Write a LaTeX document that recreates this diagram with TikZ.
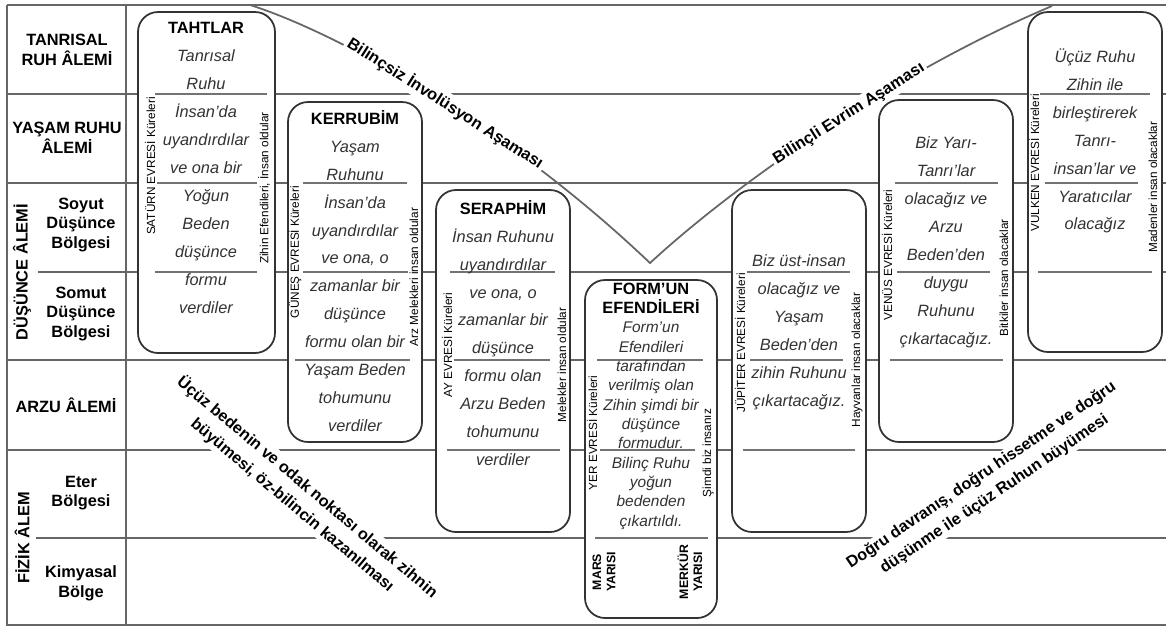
\documentclass[tikz,border=0pt]{standalone}
\usepackage{fontspec}
\setmainfont{Liberation Sans}
\usetikzlibrary{positioning}

\begin{document}
\begin{tikzpicture}[x=0.02cm,y=-0.02cm,
		satir/.style={draw=black!60,line width=0.8pt},
		ara/.style={draw=black!55,line width=0.8pt},
		kure/.style={draw=black!80,fill=white,line width=1pt,rounded corners=0.4cm},
		alem/.style={font=\fontsize{9.3}{11.2}\selectfont\bfseries,align=center,inner sep=0pt},
		metin/.style={font=\fontsize{9.3}{15.9}\selectfont\itshape,align=center,text=black!80,inner sep=0pt},
		sik/.style={font=\fontsize{8.8}{11}\selectfont\itshape,align=center,text=black!80,inner sep=0pt},
		yan/.style={rotate=90,font=\fontsize{6.7}{8}\selectfont,inner sep=0pt},
		yari/.style={rotate=90,font=\fontsize{7}{8}\selectfont\bfseries,align=center,inner sep=0pt},
		asama/.style={sloped,fill=white,font=\fontsize{9.3}{11}\selectfont\bfseries,inner sep=1.5pt},
		egik/.style={fill=white,font=\fontsize{9.2}{13.2}\selectfont\bfseries,align=center,inner sep=1pt},
		yol/.style={draw=black!60,line width=1pt}]
	\useasboundingbox (0,0) rectangle (1166,627);

	% tablo
	\draw[satir,line width=1.2pt] (7,5) -- (1166,5);
	\draw[satir] (7,5) -- (7,625) -- (1166,625);
	\draw[satir] (126,5) -- (126,625);
	\draw[satir] (7,94) -- (1166,94);
	\draw[satir] (7,183) -- (1166,183);
	\draw[satir] (38,272) -- (1166,272);
	\draw[satir] (7,360) -- (1166,360);
	\draw[satir] (7,450) -- (1166,450);
	\draw[satir] (36,538) -- (1166,538);

	% alemler
	\node[alem] (tanrisal) at (67,50) {TANRISAL\\RUH ÂLEMİ};
	\node[alem] (yasamruhu) at (67,138) {YAŞAM RUHU\\ÂLEMİ};
	\node[alem,rotate=90] (dusunce) at (22,272) {DÜŞÜNCE ÂLEMİ};
	\node[alem] (soyut) at (81,225) {Soyut\\Düşünce\\Bölgesi};
	\node[alem] (somut) at (81,314) {Somut\\Düşünce\\Bölgesi};
	\node[alem] (arzu) at (66,405) {ARZU ÂLEMİ};
	\node[alem,rotate=90] (fizik) at (22,538) {FİZİK ÂLEM};
	\node[alem] (eter) at (81,493) {Eter\\Bölgesi};
	\node[alem] (kimyasal) at (81,583) {Kimyasal\\Bölge};

	% asamalar
	\coordinate (invbas) at (250,5);
	\coordinate (dip) at (650,263);
	\coordinate (evrson) at (1052,6);
	\draw[yol] (invbas) .. controls (330,30) and (500,120) .. (dip)
			node[asama,pos=0.55] (involusyon) {Bilinçsiz İnvolüsyon Aşaması}
		.. controls (740,180) and (900,70) .. (evrson)
			node[asama,pos=0.55] (evrim) {Bilinçli Evrim Aşaması};

	\node[egik,rotate=-40] (ucuzbeden) at (300,496) {Üçüz bedenin ve odak noktası olarak zihnin\\büyümesi, öz-bilincin kazanılması};
	\node[egik,rotate=34] (dogru) at (988,485) {Doğru davranış, doğru hissetme ve doğru\\düşünme ile üçüz Ruhun büyümesi};

	% kureler
	\draw[kure] (138,12) rectangle (275,353);
	\draw[kure] (288,102) rectangle (422,442);
	\draw[kure] (436,190) rectangle (570,532);
	\draw[kure] (585,280) rectangle (717,618);
	\draw[kure] (732,190) rectangle (866,532);
	\draw[kure] (879,100) rectangle (1013,442);
	\draw[kure] (1028,12) rectangle (1162,352);

	\draw[ara] (155,94) -- (267,94);
	\draw[ara] (157,183) -- (257,183);
	\draw[ara] (155,272) -- (257,272);
	\draw[ara] (303,183) -- (407,183);
	\draw[ara] (303,272) -- (408,272);
	\draw[ara] (295,360) -- (410,360);
	\draw[ara] (450,272) -- (555,272);
	\draw[ara] (454,360) -- (550,360);
	\draw[ara] (447,450) -- (560,450);
	\draw[ara] (597,360) -- (703,360);
	\draw[ara] (600,450) -- (695,450);
	\draw[ara] (595,538) -- (708,538);
	\draw[ara] (747,272) -- (850,272);
	\draw[ara] (750,360) -- (843,360);
	\draw[ara] (743,450) -- (855,450);
	\draw[ara] (895,183) -- (998,183);
	\draw[ara] (897,272) -- (990,272);
	\draw[ara] (890,360) -- (1003,360);
	\draw[ara] (1040,94) -- (1150,94);
	\draw[ara] (1045,183) -- (1138,183);
	\draw[ara] (1038,272) -- (1152,272);

	\node[metin] (tahtlar) at (206,168) {{\upshape\bfseries\color{black} TAHTLAR}\\Tanrısal\\Ruhu\\İnsan'da\\uyandırdılar\\ve ona bir\\Yoğun\\Beden\\düşünce\\formu\\verdiler};
	\node[metin] (kerrubim) at (355,271) {{\upshape\bfseries\color{black} KERRUBİM}\\Yaşam\\Ruhunu\\İnsan'da\\uyandırdılar\\ve ona, o\\zamanlar bir\\düşünce\\formu olan bir\\Yaşam Beden\\tohumunu\\verdiler};
	\node[metin] (seraphim) at (503,333) {{\upshape\bfseries\color{black} SERAPHİM}\\İnsan Ruhunu\\uyandırdılar\\ve ona, o\\zamanlar bir\\düşünce\\formu olan\\Arzu Beden\\tohumunu\\verdiler};
	\node[sik] (formun) at (651,406) {{\upshape\bfseries\color{black}\fontsize{9.3}{11}\selectfont FORM'UN}\\{\upshape\bfseries\color{black}\fontsize{9.3}{11}\selectfont EFENDİLERİ}\\Form'un\\Efendileri\\tarafından\\verilmiş olan\\Zihin şimdi bir\\düşünce\\formudur.\\Bilinç Ruhu\\yoğun\\bedenden\\çıkartıldı.};
	\node[metin] (jupiter) at (799,332) {Biz üst-insan\\olacağız ve\\Yaşam\\Beden'den\\zihin Ruhunu\\çıkartacağız.};
	\node[metin] (venus) at (946,242) {Biz Yarı-\\Tanrı'lar\\olacağız ve\\Arzu\\Beden'den\\duygu\\Ruhunu\\çıkartacağız.};
	\node[metin] (vulken) at (1095,141) {Üçüz Ruhu\\Zihin ile\\birleştirerek\\Tanrı-\\insan'lar ve\\Yaratıcılar\\olacağız};

	\node[yari] (mars) at (604,572) {MARS\\YARISI};
	\node[yari] (merkur) at (690,572) {MERKÜR\\YARISI};

	% evreler
	\node[yan] (saturn) at (150,166) {SATÜRN EVRESİ Küreleri};
	\node[yan] (zihinef) at (264,188) {Zihin Efendileri, İnsan oldular};
	\node[yan] (gunes) at (295,252) {GÜNEŞ EVRESİ Küreleri};
	\node[yan] (arzmelek) at (414,277) {Arz Melekleri insan oldular};
	\node[yan] (ay) at (447,345) {AY EVRESİ Küreleri};
	\node[yan] (melekler) at (562,365) {Melekler insan oldular};
	\node[yan] (yer) at (592,433) {YER EVRESİ Küreleri};
	\node[yan] (simdi) at (708,453) {Şimdi biz insanız};
	\node[yan] (jupevre) at (740,343) {JÜPİTER EVRESİ Küreleri};
	\node[yan] (hayvan) at (857,360) {Hayvanlar insan olacaklar};
	\node[yan] (venevre) at (887,255) {VENÜS EVRESİ Küreleri};
	\node[yan] (bitki) at (1004,278) {Bitkiler insan olacaklar};
	\node[yan] (vulevre) at (1034,163) {VULKEN EVRESİ Küreleri};
	\node[yan] (maden) at (1153,187) {Madenler insan olacaklar};
\end{tikzpicture}
\end{document}
